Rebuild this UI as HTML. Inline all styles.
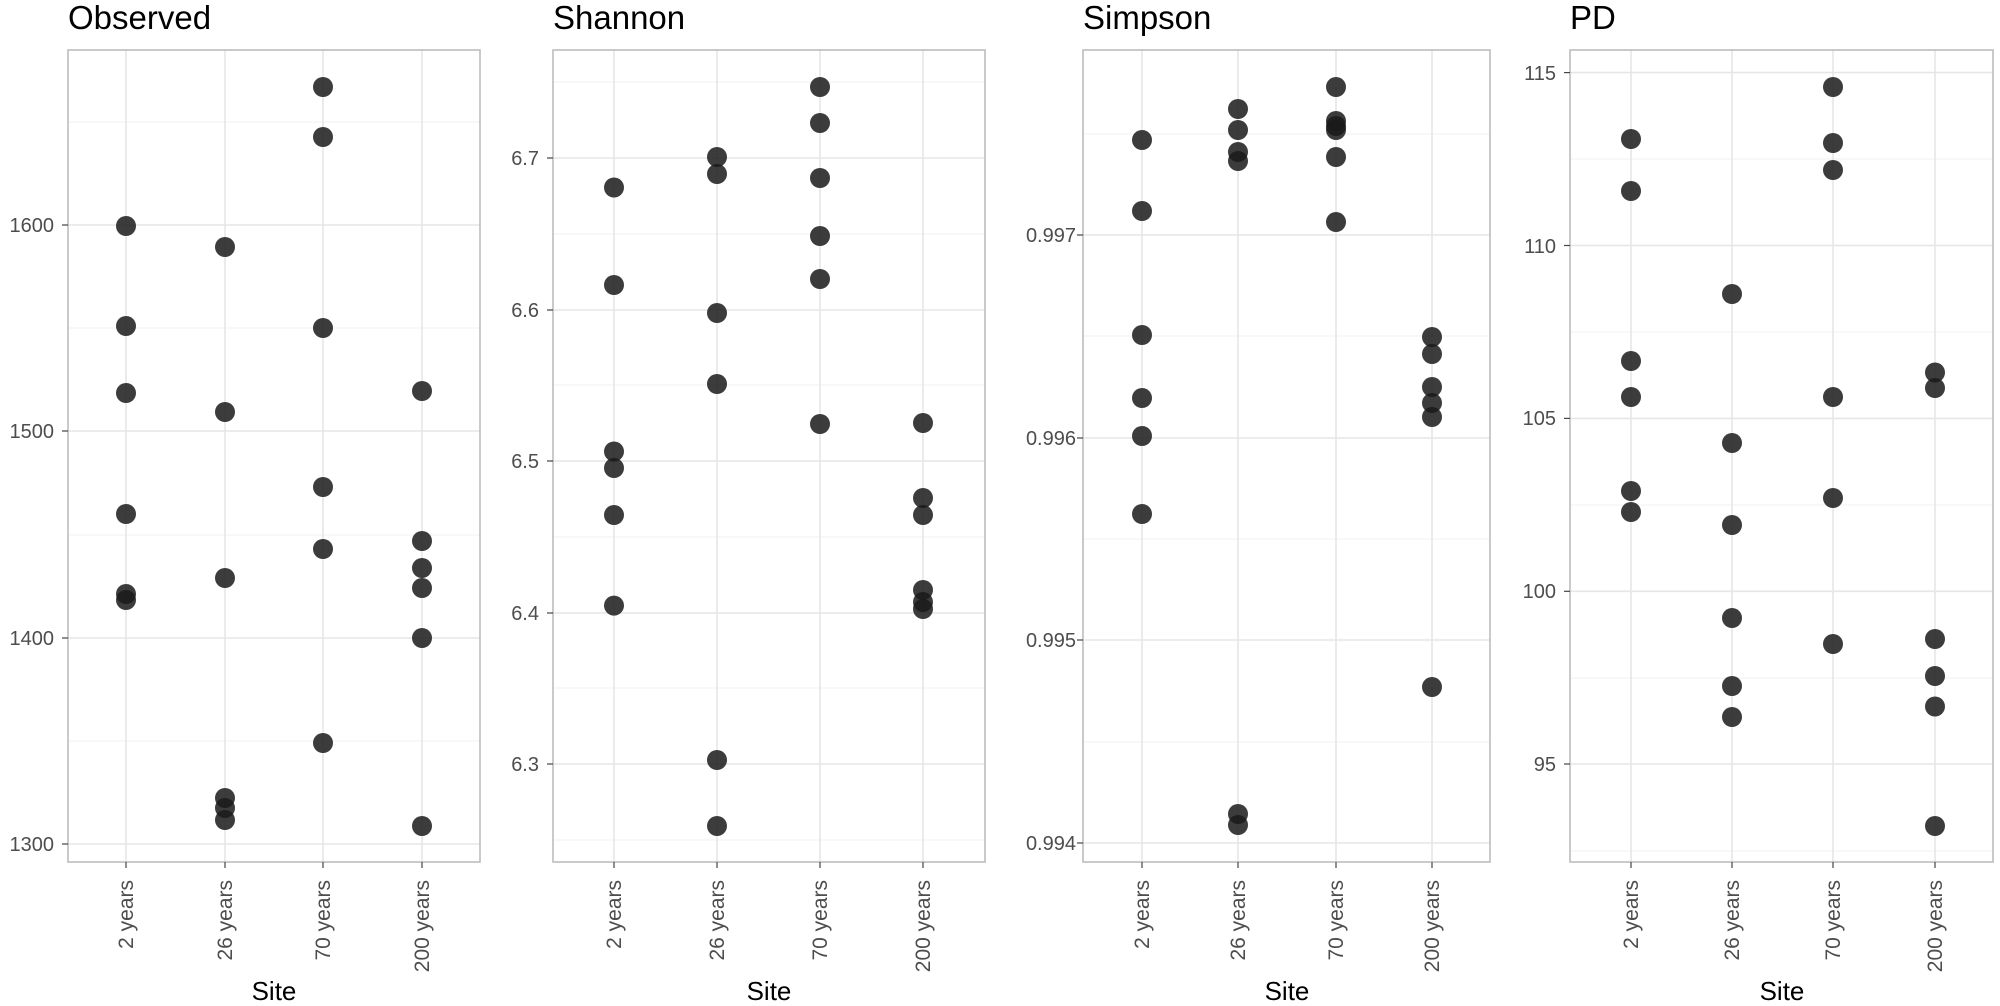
<!DOCTYPE html>
<html><head><meta charset="utf-8"><style>
html,body{margin:0;padding:0;background:#fff;}
svg{display:block;font-family:"Liberation Sans",Arial,sans-serif;}
.maj{stroke:#e6e6e6;stroke-width:1.6}
.min{stroke:#f0f0f0;stroke-width:0.9}
.brd{fill:none;stroke:#bdbdbd;stroke-width:1.6}
.tk{stroke:#444;stroke-width:1.2}
.yl{font-size:20px;fill:#4d4d4d;text-anchor:end}
.xl{font-size:21px;fill:#4d4d4d;text-anchor:end}
.ti{font-size:33px;fill:#000}
.st{font-size:26px;fill:#000;text-anchor:middle}
circle{fill:#1a1a1a;fill-opacity:0.85}
</style></head><body>
<svg width="2000" height="1006" viewBox="0 0 2000 1006">
<g>
<text class="ti" x="68" y="29">Observed</text>
<line class="min" x1="68" x2="480" y1="122" y2="122"/><line class="min" x1="68" x2="480" y1="328" y2="328"/><line class="min" x1="68" x2="480" y1="535" y2="535"/><line class="min" x1="68" x2="480" y1="741" y2="741"/>
<line class="maj" x1="68" x2="480" y1="225" y2="225"/><line class="maj" x1="68" x2="480" y1="431" y2="431"/><line class="maj" x1="68" x2="480" y1="638" y2="638"/><line class="maj" x1="68" x2="480" y1="844" y2="844"/>
<line class="maj" x1="126" x2="126" y1="50" y2="862"/><line class="maj" x1="225" x2="225" y1="50" y2="862"/><line class="maj" x1="323" x2="323" y1="50" y2="862"/><line class="maj" x1="422" x2="422" y1="50" y2="862"/>
<rect class="brd" x="68" y="50" width="412" height="812"/>
<line class="tk" x1="62" x2="68" y1="225" y2="225"/><line class="tk" x1="62" x2="68" y1="431" y2="431"/><line class="tk" x1="62" x2="68" y1="638" y2="638"/><line class="tk" x1="62" x2="68" y1="844" y2="844"/>
<text class="yl" x="54" y="232">1600</text><text class="yl" x="54" y="438">1500</text><text class="yl" x="54" y="645">1400</text><text class="yl" x="54" y="851">1300</text>
<line class="tk" x1="126" x2="126" y1="862" y2="868"/><line class="tk" x1="225" x2="225" y1="862" y2="868"/><line class="tk" x1="323" x2="323" y1="862" y2="868"/><line class="tk" x1="422" x2="422" y1="862" y2="868"/>
<text class="xl" transform="translate(133,880) rotate(-90)">2 years</text><text class="xl" transform="translate(232,880) rotate(-90)">26 years</text><text class="xl" transform="translate(330,880) rotate(-90)">70 years</text><text class="xl" transform="translate(429,880) rotate(-90)">200 years</text>
<text class="st" x="274" y="1000">Site</text>
<circle cx="126" cy="226" r="10"/><circle cx="126" cy="326" r="10"/><circle cx="126" cy="393" r="10"/><circle cx="126" cy="514" r="10"/><circle cx="126" cy="594" r="10"/><circle cx="126" cy="600" r="10"/>
<circle cx="225" cy="247" r="10"/><circle cx="225" cy="412" r="10"/><circle cx="225" cy="578" r="10"/><circle cx="225" cy="798" r="10"/><circle cx="225" cy="808" r="10"/><circle cx="225" cy="820" r="10"/>
<circle cx="323" cy="87" r="10"/><circle cx="323" cy="137" r="10"/><circle cx="323" cy="328" r="10"/><circle cx="323" cy="487" r="10"/><circle cx="323" cy="549" r="10"/><circle cx="323" cy="743" r="10"/>
<circle cx="422" cy="391" r="10"/><circle cx="422" cy="541" r="10"/><circle cx="422" cy="568" r="10"/><circle cx="422" cy="588" r="10"/><circle cx="422" cy="638" r="10"/><circle cx="422" cy="826" r="10"/>
</g>
<g>
<text class="ti" x="553" y="29">Shannon</text>
<line class="min" x1="553" x2="985" y1="82" y2="82"/><line class="min" x1="553" x2="985" y1="234" y2="234"/><line class="min" x1="553" x2="985" y1="385" y2="385"/><line class="min" x1="553" x2="985" y1="537" y2="537"/><line class="min" x1="553" x2="985" y1="688" y2="688"/><line class="min" x1="553" x2="985" y1="840" y2="840"/>
<line class="maj" x1="553" x2="985" y1="158" y2="158"/><line class="maj" x1="553" x2="985" y1="310" y2="310"/><line class="maj" x1="553" x2="985" y1="461" y2="461"/><line class="maj" x1="553" x2="985" y1="613" y2="613"/><line class="maj" x1="553" x2="985" y1="764" y2="764"/>
<line class="maj" x1="614" x2="614" y1="50" y2="862"/><line class="maj" x1="717" x2="717" y1="50" y2="862"/><line class="maj" x1="820" x2="820" y1="50" y2="862"/><line class="maj" x1="923" x2="923" y1="50" y2="862"/>
<rect class="brd" x="553" y="50" width="432" height="812"/>
<line class="tk" x1="547" x2="553" y1="158" y2="158"/><line class="tk" x1="547" x2="553" y1="310" y2="310"/><line class="tk" x1="547" x2="553" y1="461" y2="461"/><line class="tk" x1="547" x2="553" y1="613" y2="613"/><line class="tk" x1="547" x2="553" y1="764" y2="764"/>
<text class="yl" x="539" y="165">6.7</text><text class="yl" x="539" y="317">6.6</text><text class="yl" x="539" y="468">6.5</text><text class="yl" x="539" y="620">6.4</text><text class="yl" x="539" y="771">6.3</text>
<line class="tk" x1="614" x2="614" y1="862" y2="868"/><line class="tk" x1="717" x2="717" y1="862" y2="868"/><line class="tk" x1="820" x2="820" y1="862" y2="868"/><line class="tk" x1="923" x2="923" y1="862" y2="868"/>
<text class="xl" transform="translate(621,880) rotate(-90)">2 years</text><text class="xl" transform="translate(724,880) rotate(-90)">26 years</text><text class="xl" transform="translate(827,880) rotate(-90)">70 years</text><text class="xl" transform="translate(930,880) rotate(-90)">200 years</text>
<text class="st" x="769" y="1000">Site</text>
<circle cx="614" cy="187.5" r="10"/><circle cx="614" cy="285" r="10"/><circle cx="614" cy="451.5" r="10"/><circle cx="614" cy="468" r="10"/><circle cx="614" cy="515" r="10"/><circle cx="614" cy="605.6" r="10"/>
<circle cx="717" cy="157" r="10"/><circle cx="717" cy="174" r="10"/><circle cx="717" cy="313" r="10"/><circle cx="717" cy="384" r="10"/><circle cx="717" cy="760" r="10"/><circle cx="717" cy="826" r="10"/>
<circle cx="820" cy="87" r="10"/><circle cx="820" cy="123" r="10"/><circle cx="820" cy="178" r="10"/><circle cx="820" cy="236" r="10"/><circle cx="820" cy="279" r="10"/><circle cx="820" cy="424" r="10"/>
<circle cx="923" cy="423" r="10"/><circle cx="923" cy="498" r="10"/><circle cx="923" cy="515" r="10"/><circle cx="923" cy="590" r="10"/><circle cx="923" cy="602" r="10"/><circle cx="923" cy="609" r="10"/>
</g>
<g>
<text class="ti" x="1083" y="29">Simpson</text>
<line class="min" x1="1083" x2="1490" y1="134" y2="134"/><line class="min" x1="1083" x2="1490" y1="336" y2="336"/><line class="min" x1="1083" x2="1490" y1="539" y2="539"/><line class="min" x1="1083" x2="1490" y1="742" y2="742"/>
<line class="maj" x1="1083" x2="1490" y1="235" y2="235"/><line class="maj" x1="1083" x2="1490" y1="438" y2="438"/><line class="maj" x1="1083" x2="1490" y1="640" y2="640"/><line class="maj" x1="1083" x2="1490" y1="843" y2="843"/>
<line class="maj" x1="1142" x2="1142" y1="50" y2="862"/><line class="maj" x1="1238" x2="1238" y1="50" y2="862"/><line class="maj" x1="1336" x2="1336" y1="50" y2="862"/><line class="maj" x1="1432" x2="1432" y1="50" y2="862"/>
<rect class="brd" x="1083" y="50" width="407" height="812"/>
<line class="tk" x1="1077" x2="1083" y1="235" y2="235"/><line class="tk" x1="1077" x2="1083" y1="438" y2="438"/><line class="tk" x1="1077" x2="1083" y1="640" y2="640"/><line class="tk" x1="1077" x2="1083" y1="843" y2="843"/>
<text class="yl" x="1076" y="242">0.997</text><text class="yl" x="1076" y="445">0.996</text><text class="yl" x="1076" y="647">0.995</text><text class="yl" x="1076" y="850">0.994</text>
<line class="tk" x1="1142" x2="1142" y1="862" y2="868"/><line class="tk" x1="1238" x2="1238" y1="862" y2="868"/><line class="tk" x1="1336" x2="1336" y1="862" y2="868"/><line class="tk" x1="1432" x2="1432" y1="862" y2="868"/>
<text class="xl" transform="translate(1149,880) rotate(-90)">2 years</text><text class="xl" transform="translate(1245,880) rotate(-90)">26 years</text><text class="xl" transform="translate(1343,880) rotate(-90)">70 years</text><text class="xl" transform="translate(1439,880) rotate(-90)">200 years</text>
<text class="st" x="1287" y="1000">Site</text>
<circle cx="1142" cy="140" r="10"/><circle cx="1142" cy="211" r="10"/><circle cx="1142" cy="335" r="10"/><circle cx="1142" cy="398" r="10"/><circle cx="1142" cy="436" r="10"/><circle cx="1142" cy="514" r="10"/>
<circle cx="1238" cy="109" r="10"/><circle cx="1238" cy="130" r="10"/><circle cx="1238" cy="152" r="10"/><circle cx="1238" cy="161" r="10"/><circle cx="1238" cy="814" r="10"/><circle cx="1238" cy="825" r="10"/>
<circle cx="1336" cy="87" r="10"/><circle cx="1336" cy="121" r="10"/><circle cx="1336" cy="126" r="10"/><circle cx="1336" cy="130" r="10"/><circle cx="1336" cy="157" r="10"/><circle cx="1336" cy="222" r="10"/>
<circle cx="1432" cy="337" r="10"/><circle cx="1432" cy="354" r="10"/><circle cx="1432" cy="387" r="10"/><circle cx="1432" cy="403" r="10"/><circle cx="1432" cy="417" r="10"/><circle cx="1432" cy="687" r="10"/>
</g>
<g>
<text class="ti" x="1570" y="29">PD</text>
<line class="min" x1="1570" x2="1993" y1="159" y2="159"/><line class="min" x1="1570" x2="1993" y1="332" y2="332"/><line class="min" x1="1570" x2="1993" y1="505" y2="505"/><line class="min" x1="1570" x2="1993" y1="678" y2="678"/><line class="min" x1="1570" x2="1993" y1="851" y2="851"/>
<line class="maj" x1="1570" x2="1993" y1="72.6" y2="72.6"/><line class="maj" x1="1570" x2="1993" y1="245.5" y2="245.5"/><line class="maj" x1="1570" x2="1993" y1="418.4" y2="418.4"/><line class="maj" x1="1570" x2="1993" y1="591.3" y2="591.3"/><line class="maj" x1="1570" x2="1993" y1="764" y2="764"/>
<line class="maj" x1="1631" x2="1631" y1="50" y2="862"/><line class="maj" x1="1732" x2="1732" y1="50" y2="862"/><line class="maj" x1="1833" x2="1833" y1="50" y2="862"/><line class="maj" x1="1935" x2="1935" y1="50" y2="862"/>
<rect class="brd" x="1570" y="50" width="423" height="812"/>
<line class="tk" x1="1564" x2="1570" y1="72.6" y2="72.6"/><line class="tk" x1="1564" x2="1570" y1="245.5" y2="245.5"/><line class="tk" x1="1564" x2="1570" y1="418.4" y2="418.4"/><line class="tk" x1="1564" x2="1570" y1="591.3" y2="591.3"/><line class="tk" x1="1564" x2="1570" y1="764" y2="764"/>
<text class="yl" x="1556" y="80">115</text><text class="yl" x="1556" y="253">110</text><text class="yl" x="1556" y="425">105</text><text class="yl" x="1556" y="598">100</text><text class="yl" x="1556" y="771">95</text>
<line class="tk" x1="1631" x2="1631" y1="862" y2="868"/><line class="tk" x1="1732" x2="1732" y1="862" y2="868"/><line class="tk" x1="1833" x2="1833" y1="862" y2="868"/><line class="tk" x1="1935" x2="1935" y1="862" y2="868"/>
<text class="xl" transform="translate(1638,880) rotate(-90)">2 years</text><text class="xl" transform="translate(1739,880) rotate(-90)">26 years</text><text class="xl" transform="translate(1840,880) rotate(-90)">70 years</text><text class="xl" transform="translate(1942,880) rotate(-90)">200 years</text>
<text class="st" x="1782" y="1000">Site</text>
<circle cx="1631" cy="139" r="10"/><circle cx="1631" cy="191" r="10"/><circle cx="1631" cy="361" r="10"/><circle cx="1631" cy="397" r="10"/><circle cx="1631" cy="491" r="10"/><circle cx="1631" cy="512" r="10"/>
<circle cx="1732" cy="294" r="10"/><circle cx="1732" cy="443" r="10"/><circle cx="1732" cy="525" r="10"/><circle cx="1732" cy="618" r="10"/><circle cx="1732" cy="686" r="10"/><circle cx="1732" cy="717" r="10"/>
<circle cx="1833" cy="87" r="10"/><circle cx="1833" cy="143" r="10"/><circle cx="1833" cy="170" r="10"/><circle cx="1833" cy="397" r="10"/><circle cx="1833" cy="498" r="10"/><circle cx="1833" cy="644" r="10"/>
<circle cx="1935" cy="372.5" r="10"/><circle cx="1935" cy="388" r="10"/><circle cx="1935" cy="639" r="10"/><circle cx="1935" cy="676" r="10"/><circle cx="1935" cy="706.5" r="10"/><circle cx="1935" cy="826" r="10"/>
</g>
</svg>
</body></html>
